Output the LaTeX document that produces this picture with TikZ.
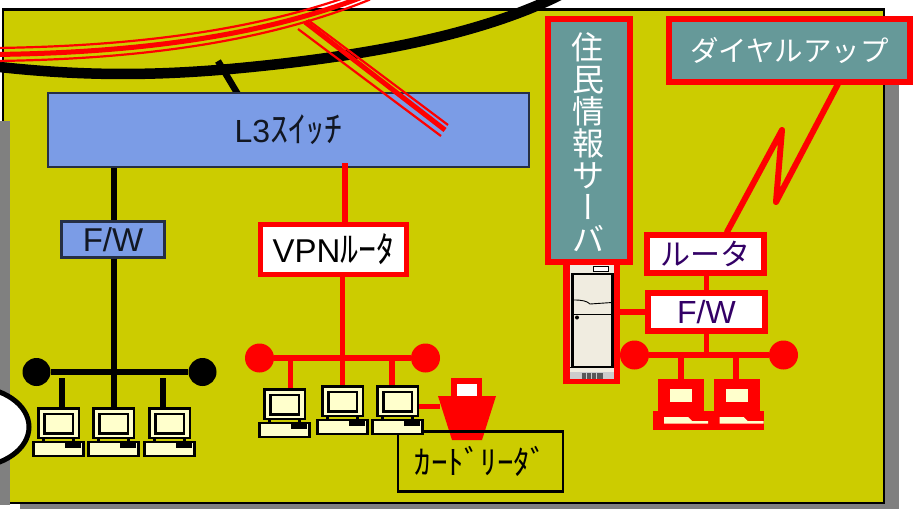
\documentclass[tikz,border=0pt]{standalone}
\usepackage{fontspec}
\setmainfont{Liberation Sans}
\newfontfamily\jp{Noto Sans CJK JP}
\newfontfamily\jpv[RawFeature={+vert}]{Noto Sans CJK JP}
\definecolor{panel}{HTML}{CCCC00}
\definecolor{swblue}{HTML}{7B9CE6}
\definecolor{tealbox}{HTML}{669999}
\definecolor{greyband}{HTML}{808080}
\definecolor{cream}{HTML}{FFFFCC}
\definecolor{ink}{HTML}{330066}
\definecolor{beige}{HTML}{F0ECE0}
\newcommand\fs[1]{\fontsize{#1}{#1}\selectfont}
\tikzset{
  bluebox/.style={draw=black!70!swblue,line width=2.2pt,fill=swblue,inner sep=0pt,text=black!85!swblue},
  redbox/.style={draw=red,line width=5.5pt,fill=white,inner sep=0pt,text=ink},
  tealred/.style={draw=red,line width=5.5pt,fill=tealbox,inner sep=0pt,text=white},
  blackline/.style={draw=black,line width=6pt},
  blackthin/.style={draw=black,line width=5.5pt},
  redline/.style={draw=red,line width=5.5pt},
  blackdot/.style={circle,fill=black,inner sep=0pt,minimum size=28pt},
  reddot/.style={circle,fill=red,inner sep=0pt,minimum size=29pt},
  cableo/.style={draw=red,line width=2.2pt},
  cablec/.style={draw=red,line width=5pt},
}
\newcommand\pcicon[2]{%
  \begin{scope}[shift={(#1,#2)},draw=black,line width=2.4pt]
    \fill[black] (9,30) rectangle (12,34);
    \fill[black] (39,30) rectangle (42,34);
    \filldraw[fill=cream] (5.5,0.5) rectangle (46,30);
    \filldraw[fill=cream] (11.5,6) rectangle (40,25.5);
    \filldraw[fill=cream] (0.5,34) rectangle (50.5,48);
    \fill[black] (32,35) rectangle (48,40);
  \end{scope}}
\newcommand\redpc[3]{%
  \begin{scope}[shift={(#1,#2)}]
    \fill[red] (0,0) rectangle (46,34);
    \fill[cream] (12,10) rectangle (34,23);
    \fill[cream] (6,38) -- (30,38) -- (34,42) -- (50,42) -- (50,44.5) -- (6,44.5) -- cycle;
  \end{scope}}
\begin{document}
\begin{tikzpicture}[x=1pt,y=-1pt]
\useasboundingbox (0,0) rectangle (913,509);
\begin{scope}
\clip (0,0) rectangle (913,509);
% panel with its band of grey
\fill[greyband] (20,20) rectangle (899,509);
\filldraw[fill=panel,draw=black,line width=2.4pt] (3,9.5) rectangle (884,503);
\fill[greyband] (0,121) rectangle (10,504.5);
\fill[white] (0,505.5) rectangle (19,509);
\filldraw[fill=white,draw=black,line width=5pt] (-28,427) ellipse (57 and 40);
% cables
\draw[black,line width=10.5pt] (-5,66.5) .. controls (80,76) and (150,76) .. (230,69)
   .. controls (340,59) and (470,40) .. (560,-5);
\draw[black,line width=6.5pt] (218,61) -- (253,119.5);
\foreach \o/\s in {-6.5/cableo,0/cablec,6.5/cableo}{
  \draw[\s] (-5,54.5+\o) .. controls (110,53+\o) and (250,42+\o) .. (370,-6+0.85*\o);
}
% L3 switch
\node[bluebox,minimum width=481pt,minimum height=74pt] (l3) at (288.5,130) {\fs{32}L3\fs{36}\jp ｽｲｯﾁ};
\draw[cablec] (305,22) -- (445,130);
\draw[cableo] (308,20) -- (448,125);
\draw[cableo] (298,29) -- (441,136);
% left network
\node[bluebox,minimum width=103pt,minimum height=36pt] (fw1) at (113,239.5) {\fs{33}F/W};
\node[blackdot] (bl) at (36.5,372) {};
\node[blackdot] (br) at (202.5,372) {};
\coordinate (a1) at (62,408);
\coordinate (a2) at (114,408);
\coordinate (a3) at (163,408);
\draw[blackline] (bl) -- (br);
\draw[blackline] (l3.south -| a2) -- (fw1.north -| a2);
\draw[blackline] (fw1.south -| a2) -- (a2);
\draw[blackthin] (a1 |- bl) ++(0,6) -- (a1);
\draw[blackthin] (a3 |- bl) ++(0,6) -- (a3);
\pcicon{33}{408}\pcicon{88}{408}\pcicon{144}{408}
% VPN network
\coordinate (b0) at (345,163);
\node[redbox,minimum width=146pt,minimum height=50pt] (vpn) at (333.5,249.5) {\color{black}\fs{33}VPN\fs{36}\jp ﾙｰﾀ};
\draw[redline] (b0) -- (b0 |- vpn.north);
\node[reddot] (rl) at (259.5,358) {};
\node[reddot] (rr) at (425.5,358) {};
\coordinate (b1) at (290.5,391);
\coordinate (b2) at (342.5,388);
\coordinate (b3) at (392,388);
\draw[redline] (rl) -- (rr);
\draw[redline] (b2 |- vpn.south) -- (b2);
\draw[redline] (b1 |- rl) -- (b1);
\draw[redline] (b3 |- rl) -- (b3);
% card reader
\coordinate (cr) at (440,406.5);
\fill[red] (438,396) -- (496,396) -- (482,440) -- (452,440) -- cycle;
\fill[red] (451,378) rectangle (482,396);
\fill[white] (457,384) rectangle (477,396);
\node[draw=black,line width=2.5pt,minimum width=165pt,minimum height=60pt,inner sep=0pt] (card) at (480.5,461.5) {\fs{33}\jp ｶｰﾄﾞﾘｰﾀﾞ};
\pcicon{259}{389}\pcicon{317}{386}\pcicon{372}{386}
\draw[redline] (419,406.5) -- (cr);
% residents' server
\coordinate (srvr) at (617,312);
\fill[red] (563,262) rectangle (620,384);
\fill[beige] (570,262) rectangle (614,379);
\fill[white] (593,267) rectangle (608,272);
\draw[black,line width=.8pt] (593,266.5) rectangle (608,271.5);
\draw[black,line width=2.6pt,fill=beige] (572.5,274) rectangle (612.5,367);
\draw[black,line width=.9pt] (574,300) .. controls (582,300) and (587,301) .. (590,304) -- (612,302.5);
\draw[black,line width=1.1pt] (574,314.5) -- (612,314.5);
\fill[black] (577,317.5) circle (2);
\fill[black!20] (570,372) rectangle (614,379);
\draw[black,line width=.5pt] (570,367.5) -- (614,367.5);
\fill[black!65] (582,373) rectangle (603,379);
\foreach \x in {586.5,591.5,596.5}{\draw[black!20,line width=.7pt] (\x,373) -- (\x,379);}
\node[tealred,minimum width=82pt,minimum height=243pt,align=center] (srv) at (589,140.5) {%
  \begin{minipage}{40pt}\vspace*{3pt}\hspace*{-2pt}\centering\baselineskip=32pt\lineskiplimit=-100pt\fs{32}\jp\baselineskip=32pt
  \mbox{\kern-2pt 住}\\\mbox{\kern-2pt 民}\\\mbox{\kern-2pt 情}\\\mbox{\kern-2pt 報}\\\mbox{\kern-2pt サ}\\\mbox{\kern-2pt{\jpv ー}}\\\mbox{\kern-2pt バ}\end{minipage}};
% dial-up
\node[tealred,minimum width=241pt,minimum height=63pt] (dial) at (789.5,50.5) {\raisebox{-2.5pt}{\fs{28.5}\jp ダイヤルアップ}};
\node[redbox,minimum width=117pt,minimum height=38pt] (rt) at (705.5,254) {\fs{30}\jp ルータ};
\node[redbox,minimum width=117pt,minimum height=38pt] (fw2) at (706.5,312) {\fs{32}F/W};
\draw[draw=red,line width=6pt,line join=round,line cap=round] (838,84) -- (776,202) -- (782,130) -- (727,232);
\draw[redline] (rt.south -| fw2) -- (fw2.north);
\draw[redline] (srvr) -- (fw2.west);
\node[reddot] (gl) at (634.5,355) {};
\node[reddot] (gr) at (783.5,355) {};
\coordinate (c1) at (681,380);
\coordinate (c2) at (736,380);
\draw[redline] (gl) -- (gr);
\draw[redline] (fw2.south) -- (fw2 |- gl);
\draw[redline] (c1 |- gl) -- (c1);
\draw[redline] (c2 |- gl) -- (c2);
\fill[red] (653,411) rectangle (764,430);
\redpc{658}{379}{}\redpc{713.5}{379}{}
\end{scope}
\end{tikzpicture}
\end{document}
